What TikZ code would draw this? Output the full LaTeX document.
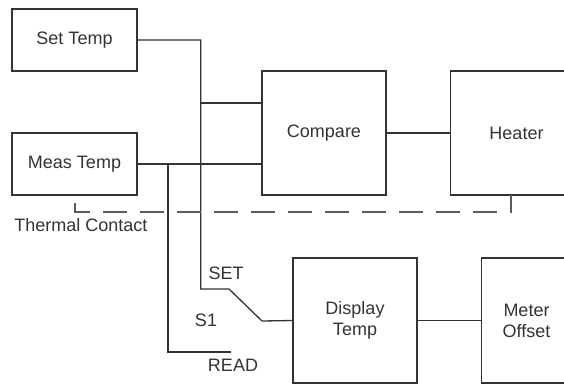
\documentclass[tikz,border=0pt]{standalone}
\usepackage{fontspec}
\setmainfont{Liberation Sans}
\usetikzlibrary{positioning}

\definecolor{ink}{HTML}{333333}

\begin{document}
\begin{tikzpicture}[
  x=1pt, y=-1pt,
  block/.style={rectangle, draw=ink, line width=1.5pt, minimum width=125pt, minimum height=62pt, inner sep=0pt, align=center, text=ink, font=\fontsize{18}{21}\selectfont},
  wire/.style={draw=ink, line width=1.3pt},
  thermal/.style={draw=ink!80, line width=1.5pt, dash pattern=on 24pt off 13pt},
  lbl/.style={text=ink, inner sep=0pt, font=\fontsize{18}{21}\selectfont},
  node distance=63pt
]
\useasboundingbox (0,0) rectangle (564,386);
\clip (0,0) rectangle (564,386);

% Nodes
\node[block] (settemp) at (74.5,40) {Set Temp};
\node[block] (meastemp) at (74.5,164) {Meas Temp};
\node[block, minimum width=124pt, minimum height=124pt] (compare) at (324,133) {Compare};
\node[block, minimum width=132pt, minimum height=124pt, right=of compare] (heater) {Heater};
\node[block, minimum width=124pt, minimum height=125pt] (display) at (355,320.5) {Display\\Temp};
\node[block, minimum width=90pt, minimum height=125pt, right=of display] (meter) {Meter\\Offset};

\node[lbl] (thermlbl) at (81,225) {Thermal Contact};
\node[lbl] (setlbl) at (226,273) {SET};
\node[lbl] (s1lbl) at (206,320) {S1};
\node[lbl] (readlbl) at (233,365) {READ};

% Switch points
\coordinate (j1) at (200,103);
\coordinate (j2) at (168,164);
\coordinate (setc) at (229,289);
\coordinate (pivot) at (262,321);
\coordinate (readc) at (231,352);
\coordinate (tc) at (75,203);
\coordinate (tb) at (75,212);
\coordinate (hc) at (511,195);

% Edges
\draw[wire] (settemp.east) -- ++(63,0) |- (setc) -- (pivot) -- (display.west);
\draw[wire] (j1) -- (j1 -| compare.west);
\draw[wire] (meastemp.east) -- (meastemp.east -| compare.west);
\draw[wire] (j2) |- (readc);
\draw[wire] (compare) -- (heater);
\draw[wire] (display) -- (meter);
\draw[thermal] (tc) -- (tb) -| (hc);

\end{tikzpicture}
\end{document}
